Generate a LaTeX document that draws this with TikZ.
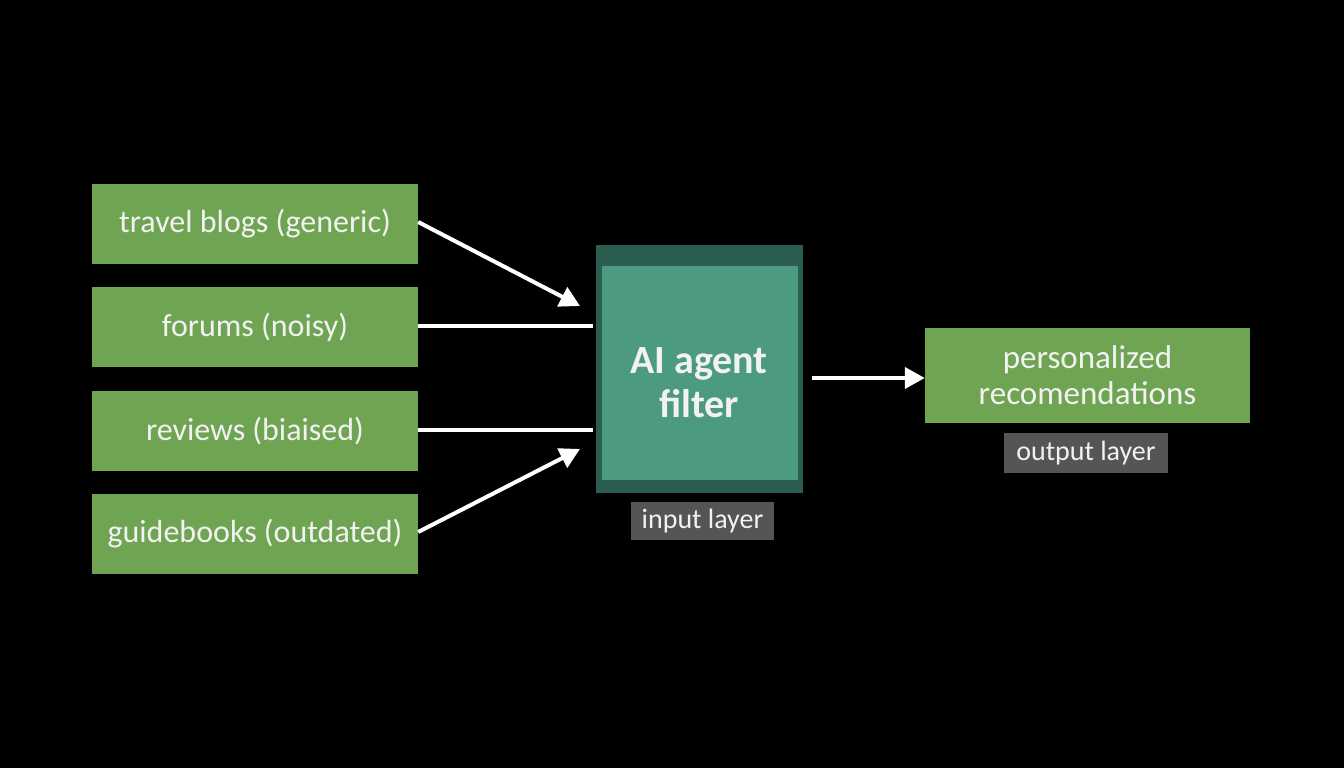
\documentclass[tikz,border=0pt]{standalone}
\usepackage{fontspec}
\setmainfont{Carlito}
\usetikzlibrary{arrows.meta}
\definecolor{boxgreen}{HTML}{6FA552}
\definecolor{outerteal}{HTML}{2B5E50}
\definecolor{innerteal}{HTML}{4C9A80}
\definecolor{labelgray}{HTML}{555555}
\definecolor{txt}{HTML}{F2F2F2}
\begin{document}
\begin{tikzpicture}[x=1pt,y=-1pt,
  src/.style={fill=boxgreen,draw=none,minimum width=326pt,minimum height=80pt,inner sep=0pt,text=txt,font=\fontsize{32}{38}\selectfont},
  tag/.style={fill=labelgray,draw=none,inner sep=0pt,text=txt,font=\fontsize{28}{32}\selectfont},
  conn/.style={draw=white,line width=4pt},
  arr/.style={conn,-{Triangle[length=20pt,width=21pt]}}]
\fill[black] (0,0) rectangle (1344,768);
\useasboundingbox (0,0) rectangle (1344,768);
% sources
\node[src] (t) at (255,223.5) {travel blogs (generic)};
\node[src] (fo) at (255,327) {forums (noisy)};
\node[src] (r) at (255,431) {reviews (biaised)};
\node[src] (g) at (255,534) {guidebooks (outdated)};
% filter
\node[fill=outerteal,minimum width=207pt,minimum height=248pt,inner sep=0pt] (f) at (699.5,369) {};
\node[fill=innerteal,minimum width=196pt,minimum height=214pt,inner sep=0pt] (fi) at (700,373) {};
\node[text=txt,align=center,inner sep=0pt,font=\bfseries\fontsize{40}{44}\selectfont] (ft) at (699,383) {AI agent\\filter};
\node[tag,minimum width=143pt,minimum height=38pt] (il) at (702.5,521) {input layer};
% output
\node[src,minimum width=325pt,minimum height=95pt,align=center,font=\fontsize{33}{36}\selectfont] (o) at (1087.5,375.5) {personalized\\recomendations};
\node[tag,minimum width=164pt,minimum height=40pt] (ol) at (1086,453) {output layer};
% connector ends
\coordinate (e1) at (580,306);
\coordinate (e2) at (593,326);
\coordinate (e3) at (593,430);
\coordinate (e4) at (580,449);
\coordinate (os) at (812,378);
\draw[arr] (t.east |- 0,222) -- (e1);
\draw[conn] (fo.east |- e2) -- (e2);
\draw[conn] (r.east |- e3) -- (e3);
\draw[arr] (g.east |- 0,532) -- (e4);
\draw[arr] (os) -- (o.west |- os);
\end{tikzpicture}
\end{document}
